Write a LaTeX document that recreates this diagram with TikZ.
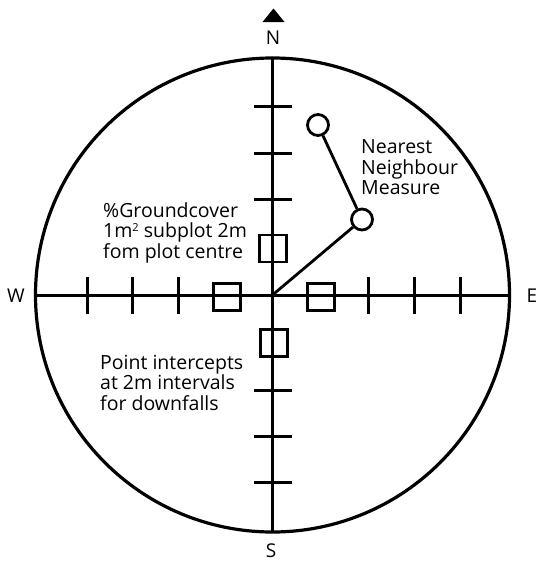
\documentclass[tikz,border=0pt]{standalone}
\usepackage{fontspec}
\setmainfont{Open Sans}
\newcommand{\smallsup}[1]{\raisebox{0.55ex}{\fontsize{11}{11}\selectfont #1}}
\begin{document}
\begin{tikzpicture}[x=1pt,y=-1pt,
  axis/.style={line width=3pt},
  tickmark/.style={line width=3pt},
  plotbox/.style={draw,line width=2.8pt,minimum size=27pt,inner sep=0pt},
  nbr/.style={draw,circle,line width=2.8pt,minimum size=21pt,inner sep=0pt},
  lbl/.style={font=\fontsize{19.5}{20.5}\selectfont,inner sep=0pt,align=left},
  dir/.style={font=\fontsize{19}{20.5}\selectfont,inner sep=0pt}]
\useasboundingbox (0,0) rectangle (538,562);
\coordinate (C) at (272.5,295);
% outer circle
\draw[line width=3.2pt] (C) circle[radius=237];
% axes
\coordinate (Wend) at (35.5,295);
\coordinate (Eend) at (509.5,295);
\coordinate (Nend) at (272.5,58);
\coordinate (Send) at (272.5,532);
\draw[axis] (Wend) -- (Eend);
\draw[axis] (Nend) -- (Send);
% ticks on horizontal axis
\foreach \x in {87,132,178,368,414,460}
  \draw[tickmark] (\x,277) -- (\x,314);
% ticks on vertical axis
\foreach \y in {106,153,199,390,436,482}
  \draw[tickmark] (254,\y) -- (292,\y);
% subplot boxes
\node[plotbox] (bw) at (227,297) {};
\node[plotbox] (be) at (321,297) {};
\node[plotbox] (bn) at (273,248.5) {};
\node[plotbox] (bs) at (274,343) {};
% nearest neighbour circles
\node[nbr] (n1) at (362,219.5) {};
\node[nbr] (n2) at (318,125) {};
\draw[line width=2.8pt] (C) -- (n1);
\draw[line width=2.8pt] (n1) -- (n2);
% north arrow
\fill (262.5,22) -- (273.5,8.5) -- (284.5,22) -- cycle;
% direction labels
\node[dir] (N) at (273,38) {N};
\node[dir] (W) at (16,296) {W};
\node[dir] (E) at (532,296) {E};
\node[dir] (S) at (271,551) {S};
% texts (base anchor = baseline of the last line)
\node[lbl,anchor=base west] (gc) at (103,258) {\%Groundcover\\1m\smallsup{2} subplot 2m\\fom plot centre};
\node[lbl,anchor=base west] (pi) at (100,410) {Point intercepts\\at 2m intervals\\for downfalls};
\node[lbl,anchor=base west] (nn) at (361,194.5) {Nearest\\Neighbour\\Measure};
\end{tikzpicture}
\end{document}
